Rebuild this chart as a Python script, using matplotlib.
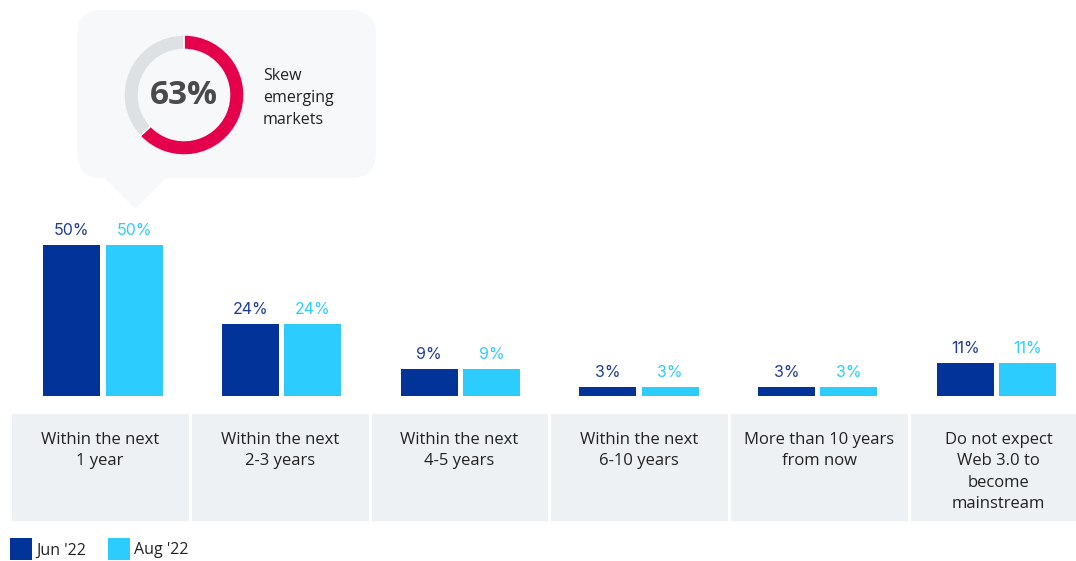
import numpy as np
import matplotlib.pyplot as plt
from matplotlib.patches import FancyBboxPatch, Polygon, Rectangle

categories = ["Within the next\n1 year", "Within the next\n2-3 years", "Within the next\n4-5 years",
              "Within the next\n6-10 years", "More than 10 years\nfrom now",
              "Do not expect\nWeb 3.0 to\nbecome\nmainstream"]
jun_22 = [50, 24, 9, 3, 3, 11]
aug_22 = [50, 24, 9, 3, 3, 11]
series_names = ["Jun '22", "Aug '22"]
skew_share = 63
skew_text = "Skew\nemerging\nmarkets"

navy = "#013399"
cyan = "#2dccff"
red = "#e4004b"
ring_grey = "#dde1e3"
panel_grey = "#eef1f4"
txt = "#222222"

W, H = 1076, 561
fig = plt.figure(figsize=(W / 100, H / 100), dpi=100)

def box(l, t, r, b):
    # pixel box (from top-left) -> figure fraction
    return [l / W, 1 - b / H, (r - l) / W, (b - t) / H]

# background layer for the callout bubble
bg = fig.add_axes([0, 0, 1, 1])
bg.set_xlim(0, W)
bg.set_ylim(H, 0)
bg.axis("off")
bg.add_patch(FancyBboxPatch((77 + 25, 10 + 25), 299 - 50, 168 - 50,
                            boxstyle="round,pad=25", fc="#f7f8fa", ec="none"))
bg.add_patch(Polygon([(103, 177), (167, 177), (135, 209)], closed=True, fc="#f7f8fa", ec="none"))
bg.text(263, 98, skew_text, ha="left", va="center", fontsize=11.5, color=txt,
        family="Open Sans", linespacing=1.5)

# donut
dax = fig.add_axes(box(124, 35, 244, 155))
dax.pie([skew_share, 100 - skew_share], colors=[red, ring_grey], startangle=90, counterclock=False,
        radius=1, wedgeprops=dict(width=0.24, edgecolor="#f7f8fa", linewidth=1))
dax.set_xlim(-1, 1)
dax.set_ylim(-1, 1)
dax.text(0, 0, f"{skew_share}%", ha="center", va="center", fontsize=24, fontweight="bold",
         color="#4a4a4a", family="Open Sans")

# bars
x = np.arange(len(categories))
xl = (-0.52, 5.445)
ax = fig.add_axes(box(10, 396 - 181.2, 1076, 396))
bw = 0.319
b1 = ax.bar(x - 0.174, jun_22, bw, color=navy, label=series_names[0])
b2 = ax.bar(x + 0.174, aug_22, bw, color=cyan, label=series_names[1])
ax.set_xlim(*xl)
ax.set_ylim(0, 60)
ax.axis("off")
for bars, col in [(b1, "#1f3c99"), (b2, cyan)]:
    for r in bars:
        ax.annotate(f"{r.get_height():g}%", (r.get_x() + r.get_width() / 2, r.get_height()),
                    xytext=(0, 5), textcoords="offset points", ha="center", va="bottom",
                    fontsize=11.5, color=col, family="Inter")

# category panels (slightly wider than the bar spacing)
lx = fig.add_axes(box(10, 412, 1076, 522))
lx.set_xlim(*xl)
lx.set_ylim(1, 0)
lx.axis("off")
pw = 1.006
for i, c in enumerate(categories):
    left = xl[0] + pw * i
    lx.add_patch(Rectangle((left, 0), pw, 1, fc=panel_grey, ec="white", lw=2))
    lx.text(left + pw / 2, 0.18, c, ha="center", va="top", fontsize=12, color=txt,
            family="Open Sans", linespacing=1.45)

fig.legend(handles=[b1, b2], loc="lower left", bbox_to_anchor=(10 / W, 1 / H), ncol=2,
           frameon=False, borderpad=0, borderaxespad=0, handlelength=1.4, handleheight=1.7,
           handletextpad=0.25, columnspacing=1.35, prop=dict(family="Open Sans", size=11.5),
           labelcolor=txt)

fig.savefig("out.png", dpi=100)
